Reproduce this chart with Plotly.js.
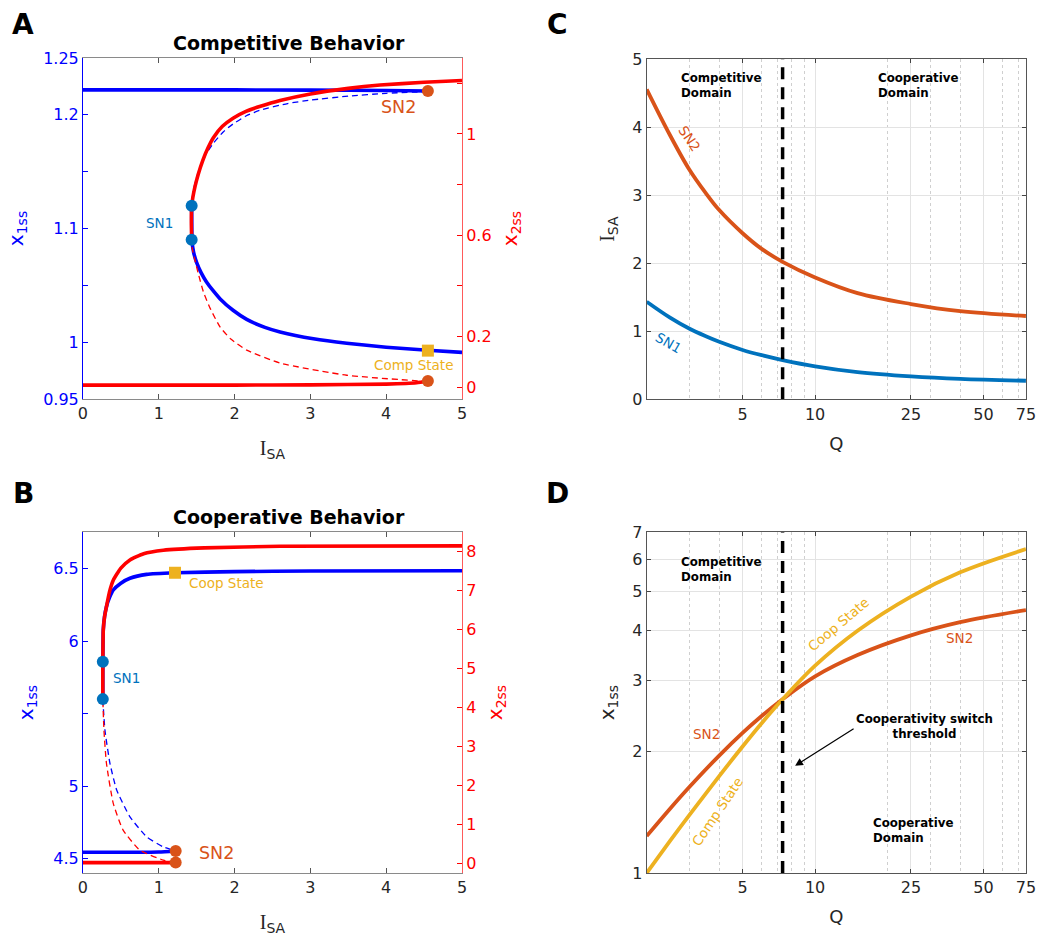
<!DOCTYPE html>
<html>
<head>
<meta charset="utf-8">
<script src="https://cdn.plot.ly/plotly-3.0.1.min.js"></script>
<style>html,body{margin:0;padding:0;background:#fff;}</style>
</head>
<body>
<div id="chart" style="width:1050px;height:944px;"></div>
<script>
// ---------------- Panel A: Competitive behavior ----------------
const aX1UpperI   = [0, 1, 2, 3, 4, 4.55];
const aX1Upper    = [1.222, 1.222, 1.222, 1.2218, 1.2215, 1.221];
const aX1UnstI    = [4.55, 4.0, 3.5, 3.0, 2.7, 2.33, 2.15, 1.98, 1.85, 1.72, 1.62, 1.54, 1.49, 1.455, 1.44, 1.434];
const aX1Unst     = [1.2205, 1.219, 1.2165, 1.213, 1.210, 1.204, 1.199, 1.192, 1.185, 1.175, 1.165, 1.153, 1.143, 1.133, 1.126, 1.120];
const aX1LowerI   = [1.434, 1.436, 1.44, 1.46, 1.50, 1.56, 1.63, 1.72, 1.81, 1.98, 2.16, 2.4, 2.6, 3.04, 3.48, 4.0, 4.55, 5.0];
const aX1Lower    = [1.120, 1.100, 1.088, 1.079, 1.070, 1.061, 1.053, 1.045, 1.038, 1.028, 1.020, 1.013, 1.009, 1.003, 0.999, 0.9955, 0.9928, 0.991];
const aX2LowerI   = [0, 1, 2, 3, 4, 4.4, 4.55];
const aX2Lower    = [0.008, 0.008, 0.008, 0.009, 0.012, 0.017, 0.024];
const aX2UnstI    = [4.55, 3.48, 2.6, 2.16, 1.95, 1.81, 1.68, 1.59, 1.52, 1.478, 1.44, 1.434];
const aX2Unst     = [0.022, 0.047, 0.095, 0.146, 0.19, 0.237, 0.31, 0.375, 0.45, 0.50, 0.55, 0.581];
const aX2UpperI   = [1.434, 1.430, 1.434, 1.45, 1.478, 1.52, 1.58, 1.65, 1.72, 1.84, 1.98, 2.15, 2.33, 2.6, 3.0, 3.5, 3.92, 4.5, 5.0];
const aX2Upper    = [0.581, 0.65, 0.715, 0.75, 0.792, 0.84, 0.895, 0.945, 0.985, 1.030, 1.062, 1.089, 1.108, 1.132, 1.158, 1.180, 1.193, 1.204, 1.211];
const aSN1I = [1.434, 1.434];  const aSN1X1 = [1.120, 1.090];
const aSN2I = [4.55];          const aSN2X1 = [1.221];  const aSN2X2 = [0.024];
const aCompI = [4.55];         const aCompX1 = [0.9925];

// ---------------- Panel B: Cooperative behavior ----------------
const bX1UpperI = [0.262, 0.262, 0.264, 0.268, 0.285, 0.31, 0.35, 0.40, 0.5, 0.62, 0.84, 1.214, 2, 3, 5];
const bX1Upper  = [5.600, 5.858, 5.95, 6.077, 6.17, 6.238, 6.30, 6.353, 6.40, 6.434, 6.461, 6.472, 6.480, 6.484, 6.486];
const bX1UnstI  = [0.262, 0.29, 0.356, 0.445, 0.62, 0.84, 1.06, 1.223];
const bX1Unst   = [5.600, 5.387, 5.157, 4.973, 4.788, 4.65, 4.58, 4.552];
const bX1LowerI = [0, 0.5, 1.0, 1.223];
const bX1Lower  = [4.543, 4.543, 4.545, 4.552];
const bX2LowerI = [0, 0.5, 1.0, 1.223];
const bX2Lower  = [0.02, 0.02, 0.02, 0.02];
const bX2UnstI  = [1.223, 1.06, 0.75, 0.53, 0.40, 0.31, 0.277, 0.262];
const bX2Unst   = [0.02, 0.085, 0.34, 0.855, 1.54, 2.57, 3.42, 4.21];
const bX2UpperI = [0.262, 0.262, 0.264, 0.268, 0.285, 0.31, 0.35, 0.40, 0.5, 0.62, 0.8, 1.06, 1.6, 2.6, 5];
const bX2Upper  = [4.21, 5.0, 5.5, 5.99, 6.33, 6.59, 6.97, 7.27, 7.58, 7.79, 7.95, 8.04, 8.10, 8.14, 8.15];
const bSN1I = [0.262, 0.262];  const bSN1X1 = [5.858, 5.600];
const bSN2I = [1.223];         const bSN2X1 = [4.552];  const bSN2X2 = [0.02];
const bCoopI = [1.214];        const bCoopX1 = [6.472];

// ---------------- Panel C: bifurcation points vs Q ----------------
const cQ     = [2, 2.5, 3, 3.5, 4, 5, 6, 7.33, 10, 15, 25, 40, 75];
const cSN2   = [4.555, 3.88, 3.38, 3.04, 2.78, 2.44, 2.21, 2.02, 1.79, 1.56, 1.40, 1.295, 1.224];
const cSN1   = [1.434, 1.20, 1.04, 0.93, 0.845, 0.725, 0.648, 0.577, 0.485, 0.40, 0.337, 0.30, 0.273];

// ---------------- Panel D: states vs Q ----------------
const dQ     = [2, 2.5, 3, 4, 5, 6, 7.33, 10, 15, 25, 40, 75];
const dSN2   = [1.235, 1.444, 1.632, 1.956, 2.226, 2.452, 2.699, 3.075, 3.473, 3.886, 4.19, 4.49];
const dState = [1.0, 1.201, 1.390, 1.739, 2.060, 2.353, 2.697, 3.268, 3.99, 4.85, 5.57, 6.36];

const qThreshold = 7.33;
const qTickVals  = [5, 10, 25, 50, 75];
const qMinorVals = [3, 4, 6, 7, 8, 9, 20, 30, 40, 60, 70];

// ---------------- styles ----------------
const FONT = 'DejaVu Sans, Verdana, sans-serif';
const BLUE = '#0000FF', RED = '#FF0000';
const MBLUE = '#0072BD', MORANGE = '#D95319', MYELLOW = '#EDB120';
const TW = 3.6, DW = 1.3;
const ISA = '<span style="font-family:Liberation Serif">I</span><sub>SA</sub>';

function line(x, y, xa, ya, color, width, dash, smooth) {
  return {type:'scatter', mode:'lines', x:x, y:y, xaxis:xa, yaxis:ya,
          line:{color:color, width:width, dash:dash||'solid', shape:'spline', smoothing:smooth||0.5},
          hoverinfo:'skip'};
}
function marks(x, y, xa, ya, color, symbol) {
  return {type:'scatter', mode:'markers', x:x, y:y, xaxis:xa, yaxis:ya,
          marker:{color:color, size:12, symbol:symbol||'circle', line:{width:0}}, hoverinfo:'skip'};
}

const traces = [
  line(aX1UpperI, aX1Upper, 'x', 'y', BLUE, TW),
  line(aX1UnstI, aX1Unst, 'x', 'y', BLUE, DW, '6px,4px'),
  line(aX1LowerI, aX1Lower, 'x', 'y', BLUE, TW),
  line(aX2LowerI, aX2Lower, 'x', 'y2', RED, TW),
  line(aX2UnstI, aX2Unst, 'x', 'y2', RED, DW, '6px,4px'),
  line(aX2UpperI, aX2Upper, 'x', 'y2', RED, TW),
  marks(aSN2I, aSN2X2, 'x', 'y2', MORANGE),
  marks(aSN1I, aSN1X1, 'x', 'y7', MBLUE),
  marks(aSN2I, aSN2X1, 'x', 'y7', MORANGE),
  marks(aCompI, aCompX1, 'x', 'y7', MYELLOW, 'square'),

  line(bX1UpperI, bX1Upper, 'x2', 'y3', BLUE, TW),
  line(bX1UnstI, bX1Unst, 'x2', 'y3', BLUE, DW, '6px,4px'),
  line(bX1LowerI, bX1Lower, 'x2', 'y3', BLUE, TW),
  line(bX2LowerI, bX2Lower, 'x2', 'y4', RED, TW),
  line(bX2UnstI, bX2Unst, 'x2', 'y4', RED, DW, '6px,4px'),
  line(bX2UpperI, bX2Upper, 'x2', 'y4', RED, TW),
  marks(bSN2I, bSN2X2, 'x2', 'y4', MORANGE),
  marks(bSN1I, bSN1X1, 'x2', 'y8', MBLUE),
  marks(bSN2I, bSN2X1, 'x2', 'y8', MORANGE),
  marks(bCoopI, bCoopX1, 'x2', 'y8', MYELLOW, 'square'),

  line(cQ, cSN2, 'x3', 'y5', MORANGE, 3.8, 'solid', 1.0),
  line(cQ, cSN1, 'x3', 'y5', MBLUE, 3.8, 'solid', 1.0),
  {type:'scatter', mode:'lines', x:[qThreshold, qThreshold], y:[0, 5], xaxis:'x3', yaxis:'y5',
   line:{color:'#000', width:3.5, dash:'12px,8px'}, hoverinfo:'skip'},

  line(dQ, dSN2, 'x4', 'y6', MORANGE, 3.8, 'solid', 1.0),
  line(dQ, dState, 'x4', 'y6', MYELLOW, 3.8, 'solid', 1.0),
  {type:'scatter', mode:'lines', x:[qThreshold, qThreshold], y:[1, 7], xaxis:'x4', yaxis:'y6',
   line:{color:'#000', width:3.5, dash:'12px,8px'}, hoverinfo:'skip'}
];

const FRAME = '#8a8a8a';
function xLin(domain, anchor, title) {
  return {domain:domain, anchor:anchor, range:[0,5], tickvals:[0,1,2,3,4,5],
    ticks:'inside', ticklen:5, tickcolor:'#555', showline:true, linecolor:FRAME, linewidth:1,
    mirror:'ticks', showgrid:false, zeroline:false, tickfont:{size:16, color:'#262626'},
    title:{text:title, font:{size:20, color:'#262626'}, standoff:18}};
}
function yLeft(domain, anchor, range, vals, minorVals, color) {
  return {domain:domain, anchor:anchor, range:range, tickvals:vals, ticktext:vals.map(String),
    ticks:'inside', ticklen:5, tickcolor:color, showline:true, linecolor:color, linewidth:1,
    minor:{tickvals:minorVals, ticks:'inside', ticklen:5, tickcolor:color, showgrid:false},
    showgrid:false, zeroline:false, tickfont:{size:16, color:color},
    title:{text:'x<sub>1ss</sub>', font:{size:20, color:color}, standoff:14}};
}
function yRight(over, anchor, range, vals, minorVals) {
  return {overlaying:over, anchor:anchor, side:'right', range:range, tickvals:vals, ticktext:vals.map(String),
    ticks:'inside', ticklen:5, tickcolor:RED, showline:true, linecolor:'#ff5a5a', linewidth:1,
    minor:{tickvals:minorVals, ticks:'inside', ticklen:5, tickcolor:RED, showgrid:false},
    showgrid:false, zeroline:false, tickfont:{size:16, color:RED},
    title:{text:'x<sub>2ss</sub>', font:{size:20, color:RED}, standoff:12}};
}
function xLog(domain, anchor) {
  return {domain:domain, anchor:anchor, type:'log', range:[Math.log10(2), Math.log10(75)],
    tickvals:qTickVals, ticktext:qTickVals.map(String), ticks:'inside', ticklen:4, tickcolor:'#444',
    showline:true, linecolor:'#555', linewidth:1, mirror:'ticks', showgrid:true, gridcolor:'#e3e3e3', gridwidth:1,
    zeroline:false, tickfont:{size:16, color:'#262626'},
    minor:{tickvals:qMinorVals, showgrid:true, gridcolor:'#cfcfcf', griddash:'dot', gridwidth:1, ticks:''},
    title:{text:'Q', font:{size:18, color:'#262626'}, standoff:14}};
}

const layout = {
  width:1050, height:944, margin:{l:0, r:0, t:0, b:0},
  paper_bgcolor:'#fff', plot_bgcolor:'#fff', showlegend:false,
  font:{family:FONT, size:16, color:'#262626'},

  xaxis: xLin([0.0790, 0.4400], 'y', ISA),
  yaxis: yLeft([0.5773, 0.9386], 'x', [0.9499, 1.2501], [0.95, 1, 1.1, 1.2, 1.25], [1.05, 1.15], BLUE),
  yaxis2: yRight('y', 'x', [-0.047, 1.30], [0, 0.2, 0.6, 1], [0.4, 0.8, 1.2]),
  yaxis7: {overlaying:'y', anchor:'x', range:[0.9499, 1.2501], visible:false},

  xaxis2: xLin([0.0790, 0.4400], 'y3', ISA),
  yaxis3: yLeft([0.0752, 0.4364], 'x2', [4.40, 6.753], [4.5, 5, 6, 6.5], [5.5], BLUE),
  yaxis4: yRight('y3', 'x2', [-0.247, 8.506], [0,1,2,3,4,5,6,7,8], []),
  yaxis8: {overlaying:'y3', anchor:'x2', range:[4.40, 6.753], visible:false},

  xaxis3: xLog([0.6159, 0.9771], 'y5'),
  yaxis5: {domain:[0.5770, 0.9375], anchor:'x3', range:[0, 5], tickvals:[0,1,2,3,4,5],
    ticks:'inside', ticklen:4, tickcolor:'#444', showline:true, linecolor:'#555', mirror:'ticks',
    showgrid:true, gridcolor:'#e3e3e3', zeroline:false, tickfont:{size:16, color:'#262626'},
    title:{text:ISA, font:{size:20, color:'#262626'}, standoff:12}},

  xaxis4: xLog([0.6159, 0.9771], 'y6'),
  yaxis6: {domain:[0.0752, 0.4361], anchor:'x4', type:'log', range:[0, Math.log10(7)],
    tickvals:[1,2,3,4,5,6,7], ticktext:['1','2','3','4','5','6','7'],
    ticks:'inside', ticklen:4, tickcolor:'#444', showline:true, linecolor:'#555', mirror:'ticks',
    showgrid:true, gridcolor:'#e3e3e3', zeroline:false, tickfont:{size:16, color:'#262626'},
    title:{text:'x<sub>1ss</sub>', font:{size:20, color:'#262626'}, standoff:12}},

  annotations: []
};

const A = layout.annotations;
function paperText(text, x, y, size, bold) {
  A.push({xref:'paper', yref:'paper', x:x/1050, y:1-y/944, text: bold ? '<b>'+text+'</b>' : text,
          showarrow:false, xanchor:'center', yanchor:'middle', font:{size:size, color:'#000', family:FONT}});
}
paperText('A', 23, 24, 28, true);
paperText('B', 23, 493, 28, true);
paperText('C', 557, 25, 28, true);
paperText('D', 557, 493, 28, true);
paperText('Competitive Behavior', 289, 43, 19, true);
paperText('Cooperative Behavior', 289, 517, 19, true);

function dataText(text, xa, ya, x, y, color, size, opts) {
  const o = Object.assign({xref:xa, yref:ya, x:x, y:y, text:text, showarrow:false,
    xanchor:'center', yanchor:'middle', font:{size:size, color:color, family:FONT}}, opts||{});
  A.push(o);
}
dataText('SN1', 'x', 'y', 1.009, 1.105, MBLUE, 13.5);
dataText('SN2', 'x', 'y', 4.156, 1.2069, MORANGE, 17.5);
dataText('Comp State', 'x', 'y', 4.357, 0.980, MYELLOW, 13.5);
dataText('SN1', 'x2', 'y3', 0.58, 5.746, MBLUE, 13.5);
dataText('Coop State', 'x2', 'y3', 1.887, 6.399, MYELLOW, 13.5);
dataText('SN2', 'x2', 'y3', 1.768, 4.538, MORANGE, 17.5);
const L = Math.log10;
dataText('SN2', 'x3', 'y5', L(2.998), 3.835, MORANGE, 13.5, {textangle:56});
dataText('SN1', 'x3', 'y5', L(2.475), 0.832, MBLUE, 13.5, {textangle:30});
dataText('<b>Competitive<br>Domain</b>', 'x3', 'y5', L(2.715), 4.61, '#000', 11.8, {xanchor:'left', align:'left'});
dataText('<b>Cooperative<br>Domain</b>', 'x3', 'y5', L(17.9), 4.61, '#000', 11.8, {xanchor:'left', align:'left'});
dataText('<b>Competitive<br>Domain</b>', 'x4', 'y6', L(2.715), L(5.65), '#000', 11.8, {xanchor:'left', align:'left'});
dataText('<b>Cooperative<br>Domain</b>', 'x4', 'y6', L(17.06), L(1.275), '#000', 11.8, {xanchor:'left', align:'left'});
dataText('<b>Cooperativity switch<br>threshold</b>', 'x4', 'y6', L(28.5), L(2.306), '#000', 11.8, {align:'center'});
dataText('SN2', 'x4', 'y6', L(3.54), L(2.207), MORANGE, 13.5);
dataText('SN2', 'x4', 'y6', L(39.9), L(3.83), MORANGE, 13.5);
dataText('Coop State', 'x4', 'y6', L(12.5), L(4.15), MYELLOW, 13.5, {textangle:-40});
dataText('Comp State', 'x4', 'y6', L(3.92), L(1.416), MYELLOW, 13.5, {textangle:-56});
A.push({xref:'x4', yref:'y6', x:L(8.26), y:L(1.845), ax:60, ay:-38, text:'', showarrow:true,
        arrowhead:2, arrowsize:1.3, arrowwidth:1.2, arrowcolor:'#000'});

Plotly.newPlot('chart', traces, layout, {staticPlot:true, displayModeBar:false});
</script>
</body>
</html>
